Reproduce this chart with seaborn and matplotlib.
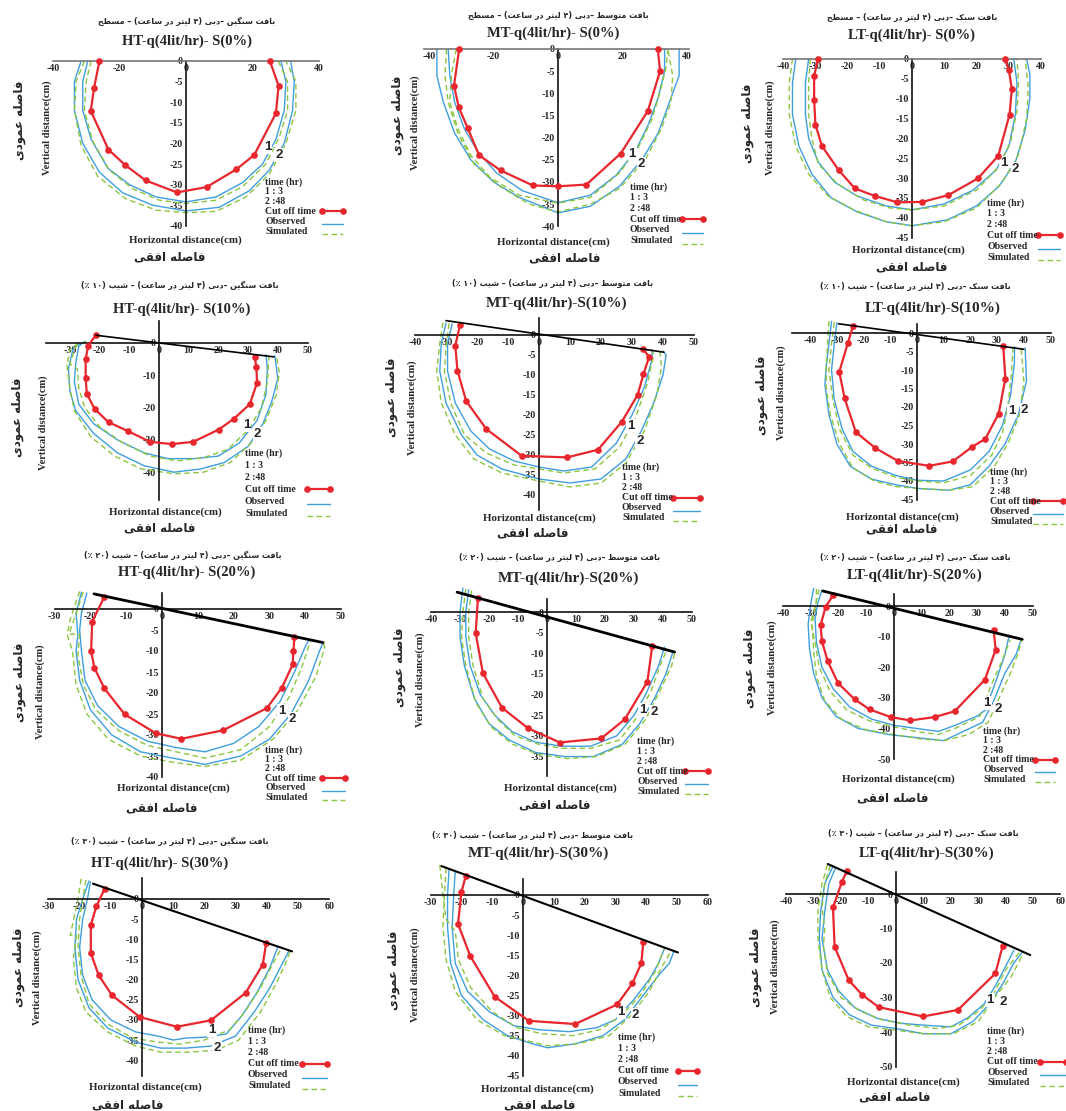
import re
import numpy as np
import pandas as pd
import matplotlib
matplotlib.use("Agg")
import matplotlib.pyplot as plt
from matplotlib.lines import Line2D
import seaborn as sns

sns.set_theme(style="white")
plt.rcParams["font.family"] = ["Liberation Serif", "DejaVu Sans"]
plt.rcParams["axes.unicode_minus"] = False

# ---------------------------------------------------------------- data
# wetting front coordinates (x: horizontal cm, y: vertical cm)
HT0_cut = [(-26, 0), (-27.6, -6.5), (-28.6, -12.1), (-23.3, -21.5), (-18.2, -25.3), (-12.1, -29), (-2.7, -31.9),
           (6.2, -30.6), (15.1, -26.3), (20.5, -22.8), (27, -12.7), (27.8, -6), (25.2, 0)]
HT0_obs3 = [(-29.5, 0), (-31, -5), (-31, -12), (-28.5, -19), (-23.5, -26), (-17, -30), (-9, -33), (0, -34.2), (9, -33),
            (17, -29.5), (23, -25), (27, -19), (29.5, -12), (30, -5), (28.5, 0)]
HT0_sim3 = [(-28.5, 0), (-30, -5), (-30.5, -12), (-28, -19.5), (-23, -26.5), (-16, -31), (-8, -33.8), (0, -34.6),
            (9, -33.8), (17, -30.5), (24, -25), (28, -18.5), (30.5, -12), (30.5, -5), (27.7, 0)]
HT0_obs48 = [(-31.5, 0), (-33.5, -5), (-33.5, -12), (-31, -20), (-26, -27), (-19, -32), (-10, -35), (0, -36.4),
             (10, -35.5), (19, -31.5), (25, -26.5), (29.5, -20), (32, -12), (32.5, -5), (31.4, 0)]
HT0_sim48 = [(-30.5, 0), (-33, -5), (-33.5, -12), (-31.5, -20.5), (-26.5, -28), (-18, -33.5), (-9, -36.2), (0, -36.8),
             (9, -36.5), (18, -33), (25, -27.5), (30, -20), (33, -12), (33, -5), (30, 0)]

MT0_cut = [(-30.6, 0), (-32.2, -8.3), (-30.7, -13.2), (-28, -17.8), (-24.4, -24), (-17.8, -27.4), (-7.8, -30.8),
           (0, -31), (8.8, -30.6), (19.4, -23.6), (27.8, -14), (31.6, -5), (30.9, 0)]
MT0_obs3 = [(-34, 0), (-33.5, -6), (-32, -12), (-29, -18), (-25, -23), (-19, -28), (-11, -32), (0, -34.7), (10, -33),
            (18, -28.5), (24, -23), (28, -17), (31, -11), (33, -5), (33, 0)]
MT0_sim3 = [(-31.5, 0), (-33, -6), (-33.5, -12), (-31, -18), (-27, -24), (-21, -29), (-12, -33), (0, -34.8),
            (10, -33.5), (19, -28), (25, -22), (29, -16), (31.5, -10), (33.5, -4), (34, 0)]
MT0_obs48 = [(-37.5, 0), (-37.5, -6), (-35.5, -12), (-32, -19), (-27, -25), (-20, -30), (-12, -33.5), (0, -37),
             (10, -35.5), (19, -31), (26, -25), (31, -19), (34.5, -12), (37.5, -6), (37.5, 0)]
MT0_sim48 = [(-34.5, 0), (-35, -6), (-34, -12), (-31, -19), (-26, -26), (-18, -31), (-9, -35), (0, -36.8), (10, -35),
             (19, -31.5), (27, -25), (32, -18), (35, -12), (35.5, -6), (34, 0)]

LT0_cut = [(-29.1, 0), (-30.3, -4.3), (-30.3, -10.3), (-29.9, -16.5), (-27.9, -21.9), (-22.7, -28), (-17.7, -32.6),
           (-11.5, -34.5), (-4.5, -36.1), (3.2, -36), (11.2, -34.3), (20.4, -30.1), (26.7, -24.4), (30.2, -14),
           (30.9, -7.6), (30, -2.8), (28.8, 0)]
LT0_obs3 = [(-32, 0), (-33, -6), (-33, -14), (-32, -20), (-29, -26), (-24, -31), (-17, -34.5), (-8, -37), (0, -38),
            (10, -36.5), (19, -33), (26, -28), (30, -22), (32, -14), (32.5, -6), (31.5, 0)]
LT0_sim3 = [(-31.5, 0), (-32, -6), (-32, -14), (-31, -20), (-29, -26.5), (-23, -31.5), (-15, -35.5), (-7, -37.5),
            (0, -38), (10, -37), (20, -33), (26.5, -27.5), (30.5, -21), (32.5, -13), (33, -6), (32.5, 0)]
LT0_obs48 = [(-36, 0), (-37, -6), (-37, -14), (-35, -22), (-31, -29), (-25, -35), (-17, -38.5), (-8, -41), (0, -42),
             (11, -40.5), (20, -37), (27, -32), (32, -26), (35, -18), (36.5, -10), (36.5, -4), (35.5, 0)]
LT0_sim48 = [(-37, 0), (-38, -6), (-38, -14), (-36, -22), (-32, -29), (-26, -34.5), (-18, -38), (-8, -41), (0, -42),
             (10, -41), (20, -37.5), (28, -31), (33, -24), (35.5, -15), (36, -7), (35, 0)]

HT10_surface = [(-21.3, 2.4), (38.7, -4.3)]
HT10_cut = [(-21.3, 2.4), (-23.8, -0.8), (-24.7, -4.9), (-24.7, -10.9), (-24.3, -15.7), (-21.7, -20.4), (-17, -24.5),
            (-10.4, -27.3), (-3, -30.6), (4.4, -31.3), (11.5, -30.6), (20.1, -26.8), (25.3, -23.4), (30.6, -18.9),
            (33, -12.3), (32.8, -7.5), (32.2, -4.3)]
HT10_obs3 = [(-25, 0.5), (-27, -1), (-28, -6), (-28.5, -12), (-27, -19), (-22, -25), (-14, -30), (-5, -34), (3, -35.8),
             (12, -35.8), (20, -35), (27, -31), (33, -24), (36, -16), (36.5, -8), (36, -3.6)]
HT10_sim3 = [(-24.5, 0.5), (-28, -1), (-30, -6.5), (-27.5, -8), (-27, -14), (-25, -20), (-20, -26), (-12, -31),
             (-3, -35), (6, -36.5), (15, -35.5), (23, -33), (30, -27), (34.5, -20), (36.5, -12), (37, -3.7)]
HT10_obs48 = [(-26.5, 0), (-29, -2), (-30.5, -8), (-30, -15), (-28, -21), (-22, -28), (-14, -34), (-5, -38), (5, -40),
              (14, -39), (22, -37), (30, -32), (35, -25), (38, -18), (40, -11), (39, -3.9)]
HT10_sim48 = [(-27, 0), (-30, -2), (-31, -7), (-30, -14), (-28.5, -21), (-23, -29), (-15, -35), (-6, -39),
              (5, -40.5), (15, -40), (24, -37), (31, -31), (36, -24), (39.5, -16), (40.5, -9), (39.5, -4)]

MT10_surface = [(-30, 3.6), (40.3, -4.3)]
MT10_cut = [(-25.5, 2.5), (-27, -2.7), (-26.3, -8.9), (-23.5, -16.5), (-17, -23.5), (-5.6, -30.2), (9, -30.6),
            (19, -28.7), (26.7, -21.7), (31.8, -15), (33.7, -9.8), (35.5, -5.5), (33.5, -3.4)]
MT10_obs3 = [(-28, 2.8), (-29.5, -2), (-29.5, -9), (-27, -17), (-22, -24), (-16, -28.5), (-8, -31.5), (0, -33),
             (8, -34), (17, -33), (25, -27), (30, -20), (34, -13), (36.5, -6), (36.5, -3.7)]
MT10_sim3 = [(-29, 2.9), (-30, -3), (-30.5, -9), (-28.5, -17), (-24, -25), (-17, -29.5), (-8, -32.5), (0, -33.5),
             (8, -34.5), (18, -33.5), (26, -28), (31, -21), (35, -12), (37, -5), (36.5, -3.7)]
MT10_obs48 = [(-30, 3), (-31.5, -2), (-32, -9), (-30, -17), (-25, -25), (-20, -30), (-12, -33.5), (0, -36),
              (10, -37), (20, -36), (28, -31), (33, -24), (37, -17), (40, -10), (41, -5), (40, -4)]
MT10_sim48 = [(-31, 3.1), (-32, -2), (-33, -9), (-31.5, -17), (-27, -25), (-21, -31), (-12, -34.5), (0, -36.5),
              (10, -38), (20, -37), (28, -32), (34, -24), (38, -15), (39.5, -8), (39, -3.9)]

LT10_surface = [(-29.4, 2.5), (40, -4.4)]
LT10_cut = [(-24, 1.8), (-25.9, -2.7), (-29.1, -10.5), (-27.1, -17.7), (-22.9, -26.8), (-15.6, -31.1), (-7.1, -34.6),
            (4.6, -35.9), (13.4, -34.7), (20.6, -30.8), (25.6, -28.6), (30.6, -21.8), (33.1, -12.3), (32.3, -3.6)]
LT10_obs3 = [(-30, 2.8), (-31, -3), (-32, -10), (-31, -18), (-28, -26), (-24, -32), (-17, -36), (-8, -38.5),
             (0, -39.8), (10, -40), (20, -37), (27, -32), (32, -25), (35, -17), (36.5, -8), (36.5, -3.7)]
LT10_sim3 = [(-31, 2.9), (-32, -3), (-33, -10), (-31.5, -18), (-29, -26), (-24, -33), (-17, -36.5), (-8, -39),
             (0, -40), (10, -40.5), (20, -38.5), (28, -33), (32, -27), (34, -20), (35.5, -10), (36, -3.6)]
LT10_obs48 = [(-32, 3.1), (-33, -3), (-34, -9), (-34.5, -14), (-33, -22), (-30, -30), (-25, -36), (-17, -39.5),
              (-8, -41), (0, -42), (12, -42.5), (20, -41), (27, -36), (33, -30), (38, -22), (41, -13), (40.5, -4)]
LT10_sim48 = [(-33, 3.2), (-33.5, -3), (-34, -9), (-34, -15), (-32.5, -22), (-29, -30), (-24, -36.5), (-16, -40),
              (-8, -41.5), (0, -42), (12, -42.5), (21, -41.5), (29, -36), (34, -30), (38.5, -22), (40, -13), (39, -4)]

HT20_surface = [(-19, 3.6), (45, -8)]
HT20_cut = [(-16.1, 2.9), (-19.5, -3), (-19.8, -10), (-18.9, -14), (-16.1, -18.9), (-10.4, -25.1), (-1.7, -29.6),
            (5.4, -30.9), (17, -28.9), (29.3, -23.6), (33.5, -18.7), (36.5, -13.2), (36.7, -10), (37, -6.6)]
HT20_obs3 = [(-21, 3.8), (-22.5, -1), (-23, -5), (-22.5, -10), (-21.5, -17), (-18, -23), (-12, -28), (-4, -31.5),
             (4, -33), (12, -34), (20, -32), (27, -28), (33, -22), (37, -15), (40, -9), (41, -7.4)]
HT20_sim3 = [(-22, 4), (-24, -1), (-26, -6), (-23, -6), (-23.5, -11), (-22, -18), (-18.5, -24), (-12, -29),
             (-4, -32.5), (4, -34), (12, -35.5), (22, -33.5), (30, -28), (35.5, -21), (39, -14), (41.5, -7.5)]
HT20_obs48 = [(-22.5, 4), (-24, -1), (-23.5, -6), (-24, -10), (-23, -17), (-20, -24), (-14, -30), (-6, -34),
              (3, -35.5), (12, -37), (22, -35), (30, -31), (36, -25), (41, -17), (44, -10), (45, -8)]
HT20_sim48 = [(-23, 4.2), (-25.5, -2), (-26.5, -6), (-25, -10), (-24, -18), (-21, -25), (-15, -31), (-6, -35),
              (3, -36.5), (12, -37.5), (22, -36), (31, -31), (38, -24), (43, -16), (45.5, -9), (45, -8.2)]

MT20_surface = [(-31, 4.8), (44, -9.7)]
MT20_cut = [(-23.8, 3.5), (-24.6, -5.1), (-22.1, -14.8), (-15.5, -23.2), (-6.6, -28.1), (4.4, -31.6), (18.7, -30.6),
            (26.8, -26), (34.6, -16.9), (36.3, -8.2)]
MT20_obs3 = [(-27, 5.4), (-28, 0), (-28, -6), (-26.5, -13), (-23, -20), (-18, -25), (-12, -29), (-4, -31.5),
             (5, -32.5), (15, -32.5), (24, -30), (30, -25), (34, -20), (38.5, -13), (40.5, -8.5)]
MT20_sim3 = [(-26, 5.2), (-27, 0), (-27, -6), (-25.5, -13), (-22, -21), (-17, -26), (-11, -30), (-3, -32), (5, -33),
             (15, -33), (25, -31), (31, -25.5), (36, -19), (39.5, -12), (41.5, -9)]
MT20_obs48 = [(-29, 5.8), (-30, 0), (-30, -6), (-28.5, -13), (-25, -21), (-20, -27), (-13, -31), (-4, -34), (6, -35),
              (16, -35), (26, -32), (32, -27), (37, -21), (41, -15), (43.5, -9.5)]
MT20_sim48 = [(-28, 5.6), (-29, 0), (-29.5, -6), (-28, -13), (-24.5, -22), (-19, -28), (-12, -32), (-3, -34.5),
              (7, -35.5), (17, -35), (27, -32), (34, -26), (39, -19), (43, -13), (44, -10)]

LT20_surface = [(-25.7, 4.9), (46.3, -10.9)]
LT20_cut = [(-22, 3.5), (-24.7, -0.3), (-26.5, -6.3), (-26, -11.6), (-23.9, -18.1), (-20.2, -25.2), (-14.2, -30.5),
            (-8.8, -33.8), (-1.2, -36.3), (5.9, -37.4), (14.7, -36.3), (21.9, -34.4), (32.8, -24.1), (36.7, -14.3),
            (36, -8)]
LT20_obs3 = [(-26, 5.2), (-27.5, 1), (-28.5, -4), (-28, -12), (-26, -20), (-22, -27), (-16, -33), (-8, -37),
             (0, -39), (8, -40), (16, -41), (22, -39), (30, -36), (33, -34), (37, -24), (40, -16), (41.5, -10)]
LT20_sim3 = [(-28, 5.6), (-28, 1), (-30, -5), (-28.5, -12), (-27, -20), (-23, -28), (-17, -34), (-9, -37.5),
             (0, -39.5), (8, -41), (16, -42), (22, -40), (29, -37), (31, -36), (35, -26), (39, -18), (42, -11)]
LT20_obs48 = [(-29, 5.8), (-30, 1), (-31, -6), (-30.5, -14), (-29, -22), (-26, -30), (-21, -36), (-13, -40),
              (-2, -42), (8, -43), (18, -44), (25, -41), (32, -38), (36, -31), (40, -22), (44, -16), (46, -10.8)]
LT20_sim48 = [(-27, 5.4), (-28.5, 0), (-29.5, -6), (-29, -15), (-28, -23), (-25, -31), (-19, -37), (-10, -40.5),
              (0, -42), (10, -43.5), (18, -44), (27, -42), (34, -38), (38, -30), (42, -22), (45, -15), (46, -11)]

HT30_surface = [(-15.7, 3.8), (48.1, -13)]
HT30_cut = [(-12, 2.5), (-14.6, -1.8), (-16.4, -6.4), (-16.4, -13.4), (-13.9, -18.9), (-9.6, -23.9), (-0.7, -29.3),
            (11.2, -31.7), (22.1, -30.1), (33.2, -23.3), (38.7, -16.3), (39.8, -10.9)]
HT30_obs3 = [(-16.5, 4.3), (-17.5, 0), (-19, -5), (-20, -12), (-19, -19), (-16, -25), (-10, -30), (-2, -33), (5, -34),
             (10, -35), (14, -34.5), (20, -34.3), (27, -33.5), (32, -29), (37, -23), (41, -17), (43.5, -12)]
HT30_sim3 = [(-18, 4.7), (-19, 0), (-20, -5), (-20.5, -12), (-19.5, -19), (-17, -26), (-11, -31), (-3, -34.5),
             (5, -35.5), (12, -36), (20, -35), (28, -32.5), (33, -28), (38, -22), (42, -16), (44.5, -12.5)]
HT30_obs48 = [(-17, 4.5), (-19, 0), (-21, -5), (-21.5, -12), (-20.5, -20), (-17, -27), (-11, -32), (-2, -35.5),
              (6, -37), (14, -37), (22, -36.5), (30, -34), (36, -28), (41, -22), (45, -16), (47, -13)]
HT30_sim48 = [(-19.5, 5), (-20.5, 0), (-23, -9), (-21, -9), (-22, -15), (-21, -22), (-18, -28), (-11, -33),
              (-2, -36.5), (6, -38), (15, -38), (24, -37.5), (31, -35), (38, -28), (43, -21), (46, -16), (47.5, -13)]

MT30_surface = [(-26.5, 7.2), (50.3, -14.3)]
MT30_cut = [(-18.6, 4.7), (-20, 0.7), (-21.1, -7.2), (-17.1, -15.2), (-9.2, -25.3), (1.9, -31.3), (17, -32.1),
            (30.6, -27.2), (35.5, -22), (38.4, -17), (39.1, -11.6)]
MT30_obs3 = [(-22, 6), (-22.5, 0), (-23, -8), (-22, -17), (-18, -24), (-11, -29), (-3, -32.5), (5, -33.5), (15, -34),
             (24, -33), (30, -31), (36, -26), (41, -21), (44, -17), (46, -13.2)]
MT30_sim3 = [(-27, 7.5), (-26, 0), (-25, -6), (-22, -9), (-21, -16), (-17, -23), (-10, -29), (-2, -33), (6, -34.5),
             (16, -35), (25, -33.5), (32, -30), (38, -25), (43, -19), (46, -13)]
MT30_obs48 = [(-24, 6.5), (-24.5, 0), (-24.5, -8), (-23.5, -17), (-20, -25), (-13, -31), (-5, -35), (3, -37),
              (8, -38), (17, -37), (26, -35), (33, -31), (39, -25), (44, -20), (47.5, -17), (49, -14)]
MT30_sim48 = [(-25, 6.8), (-25.5, 0), (-26, -8), (-25, -16), (-22, -24), (-15, -31), (-6, -35), (0, -36),
              (8, -37.5), (18, -37), (28, -35), (35, -30), (41, -24), (45, -18), (48, -14)]

LT30_surface = [(-24.9, 8.7), (49, -17.7)]
LT30_cut = [(-17.9, 6.7), (-19.7, 3.6), (-23, -3.9), (-22.4, -15.3), (-17.3, -24.9), (-12.4, -29.2), (-6.3, -32.8),
            (9.9, -35.5), (22.6, -33.6), (36.3, -23), (38.9, -15.1)]
LT30_obs3 = [(-22, 7.7), (-24.5, 3), (-26, -5), (-27, -13), (-25, -22), (-21, -28), (-15, -33), (-7, -36),
             (2, -37.5), (10, -38), (20, -38.5), (26, -36), (32, -32), (36, -27), (40, -21), (43, -16.3)]
LT30_sim3 = [(-24, 8.2), (-26, 3), (-27, -4), (-26, -10), (-26.5, -15), (-25, -23), (-20, -30), (-13, -34),
             (-5, -36.5), (5, -38), (15, -39), (23, -38), (30, -34), (35, -30), (40, -22), (45, -17)]
LT30_obs48 = [(-23, 8), (-26, 3), (-27.5, -5), (-28, -13), (-27, -22), (-23, -30), (-17, -35), (-9, -38), (0, -39),
              (10, -40.5), (20, -40.5), (28, -37), (34, -32), (39, -26), (43, -20), (46, -17)]
LT30_sim48 = [(-25, 8.5), (-27, 3), (-28.5, -5), (-28.5, -13), (-27, -22), (-24, -30), (-18, -35.5), (-10, -38.5),
              (0, -39.5), (10, -40.5), (21, -40.5), (30, -37), (36, -30), (42, -24), (46, -18)]

# positions of the "1" / "2" curve labels (data coords)
LABEL1 = {"HT0": (24.5, -20.8), "MT0": (23, -23.6), "LT0": (28.4, -26.3), "HT10": (29.4, -25.3),
          "MT10": (29.6, -22.7), "LT10": (35.6, -21.1), "HT20": (33.5, -24.2), "MT20": (32.9, -23.8),
          "LT20": (33.6, -31.6), "HT30": (22.5, -32.6), "MT30": (31.9, -29.2), "LT30": (34.4, -30.7)}
LABEL2 = {"HT0": (28, -22.8), "MT0": (25.8, -25.9), "LT0": (32, -27.7), "HT10": (33.1, -28.1),
          "MT10": (32.6, -26.4), "LT10": (40.3, -20.7), "HT20": (36.5, -26.2), "MT20": (36.8, -24.2),
          "LT20": (37.6, -33.6), "HT30": (24.1, -36.9), "MT30": (36.5, -29.8), "LT30": (39, -31.2)}

LEGEND_HEAD = ["time (hr)", "1 : 3", "2 :48"]
LEGEND_NAMES = ["Cut off time", "Observed", "Simulated"]

TITLES_EN = {"HT0": "HT-q(4lit/hr)- S(0%)", "MT0": "MT-q(4lit/hr)- S(0%)", "LT0": "LT-q(4lit/hr)- S(0%)",
             "HT10": "HT-q(4lit/hr)- S(10%)", "MT10": "MT-q(4lit/hr)-S(10%)", "LT10": "LT-q(4lit/hr)-S(10%)",
             "HT20": "HT-q(4lit/hr)- S(20%)", "MT20": "MT-q(4lit/hr)-S(20%)", "LT20": "LT-q(4lit/hr)-S(20%)",
             "HT30": "HT-q(4lit/hr)- S(30%)", "MT30": "MT-q(4lit/hr)-S(30%)", "LT30": "LT-q(4lit/hr)-S(30%)"}
TEXTURE_FA = {"HT": "بافت سنگین", "MT": "بافت متوسط", "LT": "بافت سبک"}
SLOPE_FA = {"0": "مسطح", "10": "شیب (۱۰ ٪)", "20": "شیب (۲۰ ٪)", "30": "شیب (۳۰ ٪)"}
FLOW_FA = "دبی (۴ لیتر در ساعت)"
YLAB_FA = "فاصله عمودی"
XLAB_FA = "فاصله افقی"
YLAB_EN = "Vertical distance(cm)"
XLAB_EN = "Horizontal distance(cm)"

# ---------------------------------------------------------------- Persian shaping (visual order)
FA_FORMS = {
    "\u0627": ("\ufe8d", "\ufe8e", None, None),
    "\u0628": ("\ufe8f", "\ufe90", "\ufe91", "\ufe92"),
    "\u062a": ("\ufe95", "\ufe96", "\ufe97", "\ufe98"),
    "\u062d": ("\ufea1", "\ufea2", "\ufea3", "\ufea4"),
    "\u062f": ("\ufea9", "\ufeaa", None, None),
    "\u0631": ("\ufead", "\ufeae", None, None),
    "\u0633": ("\ufeb1", "\ufeb2", "\ufeb3", "\ufeb4"),
    "\u0634": ("\ufeb5", "\ufeb6", "\ufeb7", "\ufeb8"),
    "\u0635": ("\ufeb9", "\ufeba", "\ufebb", "\ufebc"),
    "\u0637": ("\ufec1", "\ufec2", "\ufec3", "\ufec4"),
    "\u0639": ("\ufec9", "\ufeca", "\ufecb", "\ufecc"),
    "\u0641": ("\ufed1", "\ufed2", "\ufed3", "\ufed4"),
    "\u0642": ("\ufed5", "\ufed6", "\ufed7", "\ufed8"),
    "\u0644": ("\ufedd", "\ufede", "\ufedf", "\ufee0"),
    "\u0645": ("\ufee1", "\ufee2", "\ufee3", "\ufee4"),
    "\u0646": ("\ufee5", "\ufee6", "\ufee7", "\ufee8"),
    "\u0647": ("\ufee9", "\ufeea", "\ufeeb", "\ufeec"),
    "\u0648": ("\ufeed", "\ufeee", None, None),
    "\u06cc": ("\ufbfc", "\ufbfd", "\ufbfe", "\ufbff"),
    "\u06a9": ("\ufb8e", "\ufb8f", "\ufb90", "\ufb91"),
    "\u06af": ("\ufb92", "\ufb93", "\ufb94", "\ufb95"),
}


def fa(text):
    text = text.replace("\u064a", "\u06cc").replace("\u0643", "\u06a9")
    out = []
    n = len(text)
    for i, ch in enumerate(text):
        forms = FA_FORMS.get(ch)
        if forms is None:
            out.append(ch)
            continue
        prev = text[i - 1] if i > 0 else ""
        nxt = text[i + 1] if i + 1 < n else ""
        pj = prev in FA_FORMS and FA_FORMS[prev][2] is not None
        nj = nxt in FA_FORMS and forms[2] is not None
        if pj and nj:
            out.append(forms[3])
        elif pj:
            out.append(forms[1])
        elif nj:
            out.append(forms[2])
        else:
            out.append(forms[0])
    s = "".join(out)
    runs = re.findall(r"[0-9\u06f0-\u06f9]+|[^0-9\u06f0-\u06f9]+", s)
    mirror = {"(": ")", ")": "("}
    vis = []
    for r in reversed(runs):
        if r[0].isdigit():
            vis.append(r)
        else:
            vis.append("".join(mirror.get(c, c) for c in reversed(r)))
    return "".join(vis)


# ---------------------------------------------------------------- layout (pixels)
W, H = 1066, 1111
PANELS = [
    dict(key="HT0", o=(186, 61), s=(3.33, 4.12), xl=(-40, 40), yl=(-40, 0), xt=[-40, -20, 0, 20, 40], yt=(0, -40, 5),
         tfa=(187, 21), ten=(187, 41), tsz=10.5, yen=(47, 128), yfa=(20, 120), xen=(185, 240), xfa=(170, 257),
         leg=(265, 182, 9.8, 322, 343)),
    dict(key="MT0", o=(558, 49), s=(3.23, 4.43), xl=(-41.5, 40.5), yl=(-40, 0), xt=[-40, -20, 0, 20, 40], yt=(0, -40, 5),
         tfa=(558, 15), ten=(553, 33), tsz=10.5, yen=(415, 123), yfa=(397, 115), xen=(553, 242), xfa=(565, 258),
         leg=(630, 187, 10.7, 682, 703)),
    dict(key="LT0", o=(912, 59), s=(3.23, 3.97), xl=(-40, 40), yl=(-45, 0), xt=list(range(-40, 41, 10)), yt=(0, -45, 5),
         tfa=(912, 17), ten=(912, 35), tsz=10.5, yen=(770, 128), yfa=(748, 123), xen=(908, 250), xfa=(912, 267),
         leg=(987, 203, 10.8, 1038, 1060)),
    dict(key="HT10", o=(159, 343), s=(2.97, 3.23), xl=(-38, 50), yl=(-48.5, 6.7), xt=list(range(-30, 51, 10)),
         yt=(0, -40, 10), tfa=(180, 285), ten=(182, 309), tsz=10.5, yen=(43, 423), yfa=(18, 417), xen=(165, 512),
         xfa=(160, 528), leg=(245, 453, 12.0, 307, 330)),
    dict(key="MT10", o=(539, 335), s=(3.1, 4.0), xl=(-40, 50), yl=(-43.75, 4.2), xt=list(range(-40, 51, 10)),
         yt=(0, -40, 5), tfa=(553, 284), ten=(557, 303), tsz=11, yen=(412, 408), yfa=(391, 397), xen=(539, 518),
         xfa=(533, 533), leg=(622, 467, 10.2, 673, 700)),
    dict(key="LT10", o=(917, 333), s=(2.67, 3.7), xl=(-47, 50), yl=(-45, 2.5), xt=list(range(-40, 51, 10)),
         yt=(0, -45, 5), tfa=(915, 287), ten=(933, 308), tsz=11, yen=(781, 393), yfa=(762, 395), xen=(902, 517),
         xfa=(902, 529), leg=(990, 472, 9.8, 1033, 1063)),
    dict(key="HT20", o=(162, 609), s=(3.58, 4.2), xl=(-30, 50), yl=(-40, 3.7), xt=list(range(-30, 51, 10)),
         yt=(0, -40, 5), tfa=(183, 555), ten=(187, 572), tsz=10.5, yen=(40, 692), yfa=(20, 682), xen=(173, 788),
         xfa=(162, 808), leg=(265, 750, 9.4, 322, 345)),
    dict(key="MT20", o=(547, 612), s=(2.9, 4.13), xl=(-40, 50), yl=(-39.8, 3.2), xt=list(range(-40, 51, 10)),
         yt=(0, -35, 5), tfa=(560, 558), ten=(568, 578), tsz=11, yen=(420, 680), yfa=(400, 667), xen=(560, 788),
         xfa=(555, 805), leg=(637, 741, 10.0, 685, 708)),
    dict(key="LT20", o=(894, 606), s=(2.77, 3.06), xl=(-40, 50), yl=(-50, 4), xt=list(range(-40, 51, 10)),
         yt=(0, -50, 10), tfa=(915, 557), ten=(915, 575), tsz=11, yen=(772, 668), yfa=(750, 668), xen=(898, 779),
         xfa=(893, 798), leg=(983, 731, 9.6, 1035, 1055)),
    dict(key="HT30", o=(142, 899), s=(3.12, 4.03), xl=(-30, 60), yl=(-44, 5.2), xt=list(range(-30, 61, 10)),
         yt=(0, -40, 5), tfa=(170, 841), ten=(160, 863), tsz=10.5, yen=(37, 978), yfa=(19, 967), xen=(145, 1087),
         xfa=(128, 1105), leg=(248, 1030, 11.2, 302, 327)),
    dict(key="MT30", o=(523, 895), s=(3.08, 4.02), xl=(-30, 60), yl=(-45, 4.1), xt=list(range(-30, 61, 10)),
         yt=(0, -45, 5), tfa=(533, 835), ten=(538, 853), tsz=11, yen=(415, 975), yfa=(393, 970), xen=(537, 1089),
         xfa=(540, 1105), leg=(618, 1037, 11.2, 678, 697)),
    dict(key="LT30", o=(896, 894), s=(2.74, 3.45), xl=(-40, 60), yl=(-50, 6.5), xt=list(range(-40, 61, 10)),
         yt=(0, -50, 10), tfa=(923, 833), ten=(927, 853), tsz=11, yen=(775, 967), yfa=(755, 967), xen=(903, 1082),
         xfa=(895, 1097), leg=(987, 1031, 10.3, 1040, 1066)),
]

RED, BLUE, GREEN = "#e8262d", "#3f9fdc", "#8cc63f"
DASH = (0, (4, 2.5))
SERIF = ["Liberation Serif", "DejaVu Serif"]
FAFONT = ["DejaVu Sans"]

fig = plt.figure(figsize=(W / 100, H / 100), dpi=100)


def fx(x):
    return x / W


def fy(y):
    return 1 - y / H


def curve(ax, pts, color, ls, lw, z, marker=None):
    df = pd.DataFrame(pts, columns=["x", "y"])
    kw = dict(marker=marker, markersize=4.8, markeredgewidth=0) if marker else {}
    sns.lineplot(data=df, x="x", y="y", sort=False, estimator=None, color=color, linestyle=ls,
                 linewidth=lw, ax=ax, zorder=z, clip_on=False, **kw)


for p in PANELS:
    key = p["key"]
    ox, oy = p["o"]
    sx, sy = p["s"]
    x0, x1 = p["xl"]
    y0, y1 = p["yl"]
    left = ox + x0 * sx
    right = ox + x1 * sx
    top = oy - y1 * sy
    bottom = oy - y0 * sy
    ax = fig.add_axes([fx(left), fy(bottom), (right - left) / W, (bottom - top) / H])
    ax.set_facecolor("none")
    ax.set_xlim(x0, x1)
    ax.set_ylim(y0, y1)

    g = globals()
    curve(ax, g[key + "_obs3"], BLUE, "-", 1.0, 2)
    curve(ax, g[key + "_obs48"], BLUE, "-", 1.0, 2)
    curve(ax, g[key + "_sim3"], GREEN, DASH, 1.0, 2)
    curve(ax, g[key + "_sim48"], GREEN, DASH, 1.0, 2)
    curve(ax, g[key + "_cut"], RED, "-", 1.6, 5, marker="o")
    if key + "_surface" in g:
        lw = {"10": 1.2, "20": 2.0, "30": 1.5}[key[2:]]
        curve(ax, g[key + "_surface"], "black", "-", lw, 6)
    ax.set_xlabel("")
    ax.set_ylabel("")

    for side in ["top", "right"]:
        ax.spines[side].set_visible(False)
    ax.spines["left"].set_position(("data", 0))
    ax.spines["bottom"].set_position(("data", 0))
    ax.spines["left"].set_color("#111111")
    ax.spines["bottom"].set_color("#777777" if key.endswith("T0") else "#111111")
    ax.spines["left"].set_linewidth(1.2)
    ax.spines["bottom"].set_linewidth(1.2)
    ax.set_xticks(p["xt"])
    a, b, st = p["yt"]
    ax.set_yticks(list(range(a, b - 1, -st)))
    ax.tick_params(length=0, pad=2.5, labelsize=7.2)
    for lab in ax.get_xticklabels() + ax.get_yticklabels():
        lab.set_fontweight("bold")
        lab.set_family(SERIF)

    for lab, pos in (("1", LABEL1[key]), ("2", LABEL2[key])):
        ax.text(pos[0], pos[1], lab, fontsize=9.5, fontweight="bold", family=["Liberation Sans"],
                ha="center", va="center", zorder=4,
                bbox=dict(boxstyle="square,pad=0.08", fc="white", ec="none"))

    # texts
    tex, slope = key[:2], key[2:]
    title_fa = fa(TEXTURE_FA[tex] + " –" + FLOW_FA + " – " + SLOPE_FA[slope])
    fig.text(fx(p["tfa"][0]), fy(p["tfa"][1]), title_fa, ha="center", va="center", fontsize=5.8,
             fontweight="bold", family=FAFONT)
    fig.text(fx(p["ten"][0]), fy(p["ten"][1]), TITLES_EN[key], ha="center", va="center", fontsize=p["tsz"],
             fontweight="bold", family=SERIF)
    fig.text(fx(p["yen"][0]), fy(p["yen"][1]), YLAB_EN, ha="center", va="center", rotation=90, fontsize=7.6,
             fontweight="bold", family=SERIF)
    fig.text(fx(p["yfa"][0]), fy(p["yfa"][1]), fa(YLAB_FA), ha="center", va="center", rotation=90, fontsize=8.5,
             fontweight="bold", family=FAFONT)
    fig.text(fx(p["xen"][0]), fy(p["xen"][1]), XLAB_EN, ha="center", va="center", fontsize=7.8,
             fontweight="bold", family=SERIF)
    fig.text(fx(p["xfa"][0]), fy(p["xfa"][1]), fa(XLAB_FA), ha="center", va="center", fontsize=8.5,
             fontweight="bold", family=FAFONT)

    lx, ly, dy, k0, k1 = p["leg"]
    for i, t in enumerate(LEGEND_HEAD + LEGEND_NAMES):
        fig.text(fx(lx), fy(ly + i * dy), t, ha="left", va="center", fontsize=7, fontweight="bold", family=SERIF)
    yk = ly + 3 * dy
    fig.add_artist(Line2D([fx(k0), fx(k1)], [fy(yk), fy(yk)], color=RED, lw=1.6, marker="o", markersize=4.8,
                          markeredgewidth=0, transform=fig.transFigure))
    fig.add_artist(Line2D([fx(k0), fx(k1)], [fy(yk + dy + 3), fy(yk + dy + 3)], color=BLUE, lw=1.0,
                          transform=fig.transFigure))
    fig.add_artist(Line2D([fx(k0), fx(k1)], [fy(yk + 2 * dy + 3), fy(yk + 2 * dy + 3)], color=GREEN, lw=1.0,
                          linestyle=DASH, transform=fig.transFigure))

fig.savefig("out.png", dpi=100, facecolor="white")
